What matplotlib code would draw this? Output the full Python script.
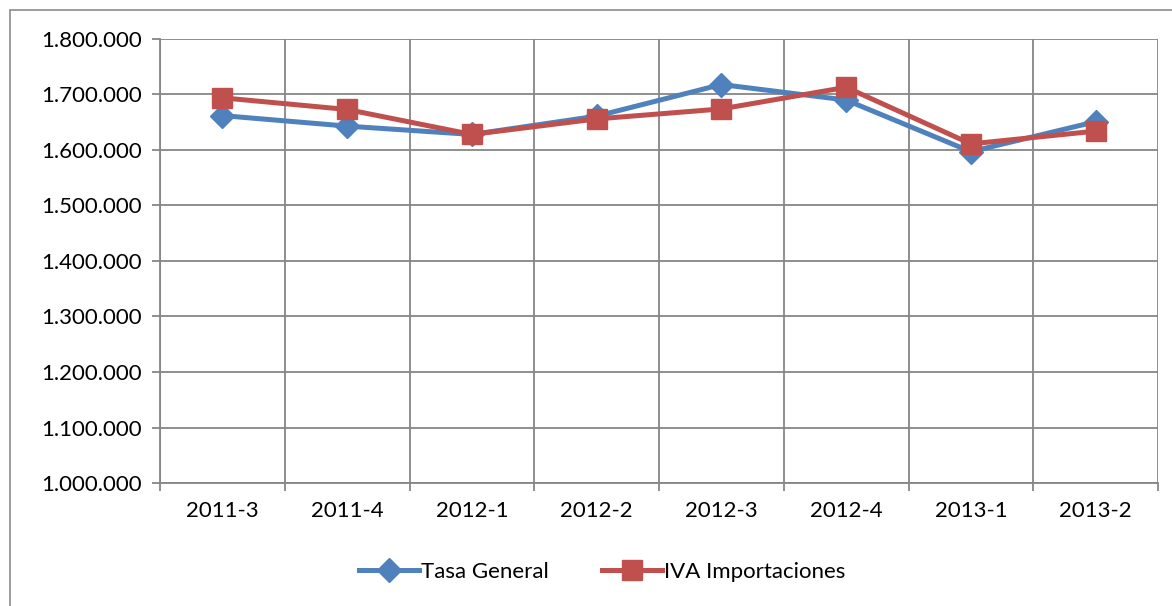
import matplotlib
matplotlib.use("Agg")
import matplotlib.pyplot as plt
from matplotlib.patches import Rectangle
from matplotlib.ticker import FuncFormatter, MultipleLocator, FixedLocator

categories = ["2011-3", "2011-4", "2012-1", "2012-2", "2012-3", "2012-4", "2013-1", "2013-2"]
tasa_general = [1662000, 1643000, 1628000, 1661000, 1718000, 1690000, 1597000, 1651000]
iva_importaciones = [1694000, 1673000, 1628000, 1656000, 1674000, 1713000, 1611000, 1634000]

plt.rcParams['font.family'] = ['Lato', 'DejaVu Sans']

fig = plt.figure(figsize=(11.72, 6.06), dpi=100)
W, H = 1172, 606
ax = fig.add_axes([160 / W, 1 - 483 / H, (1158 - 160) / W, (483 - 39) / H])

# outer chart border
fig.add_artist(Rectangle((10 / W, -0.01), (1190 - 10) / W, (606 - 10) / H + 0.01,
                         transform=fig.transFigure, fill=False, edgecolor="#8c8c8c", lw=1.2))

x = list(range(len(categories)))
ax.plot(x, tasa_general, color="#4F81BD", lw=3.6, marker="D", markersize=12,
        label="Tasa General", zorder=3)
ax.plot(x, iva_importaciones, color="#C0504D", lw=3.6, marker="s", markersize=14,
        label="IVA Importaciones", zorder=4)

ax.set_xlim(-0.5, len(categories) - 0.5)
ax.set_ylim(1000000, 1800000)
ax.yaxis.set_major_locator(MultipleLocator(100000))
ax.yaxis.set_major_formatter(FuncFormatter(lambda v, p: f"{int(v):,}".replace(",", ".")))
ax.set_xticks(x)
ax.set_xticklabels(categories)
ax.xaxis.set_minor_locator(FixedLocator([i - 0.5 for i in range(len(categories) + 1)]))

ax.grid(True, axis="y", which="major", color="#868686", lw=1.3)
ax.grid(True, axis="x", which="minor", color="#868686", lw=1.3)
ax.set_axisbelow(True)
for s in ["top", "right"]:
    ax.spines[s].set_visible(False)
for s in ["left", "bottom"]:
    ax.spines[s].set_color("#868686")
    ax.spines[s].set_linewidth(1.3)

ax.tick_params(axis="x", which="major", length=0, labelsize=16, pad=13)
ax.tick_params(axis="x", which="minor", length=6, color="#868686", width=1.3)
ax.tick_params(axis="y", length=6, color="#868686", width=1.3, labelsize=16, pad=7)

leg = fig.legend(loc="center", bbox_to_anchor=(602 / W, 1 - 572 / H), ncol=2, frameon=False,
                 fontsize=16, handlelength=2.7, columnspacing=2.4, handletextpad=0.1)

fig.savefig("out.png", dpi=100)
